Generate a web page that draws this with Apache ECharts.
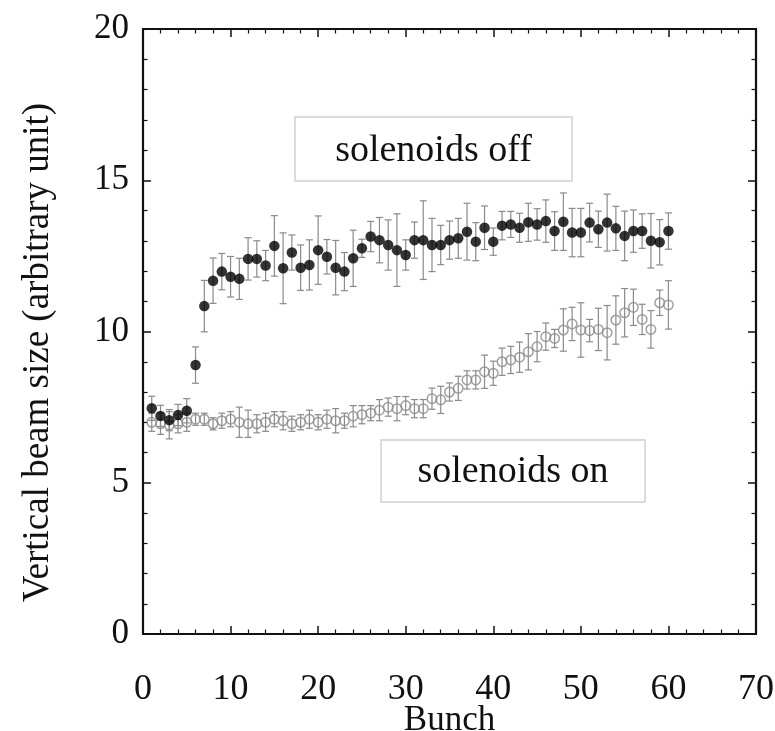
<!DOCTYPE html>
<html>
<head>
<meta charset="utf-8">
<script src="https://cdn.jsdelivr.net/npm/echarts@6/dist/echarts.min.js"></script>
<style>html,body{margin:0;padding:0;background:#fff;}#c{width:775px;height:731px;}</style>
</head>
<body>
<div id="c"></div>
<script>
const bunch = [1,2,3,4,5,6,7,8,9,10,11,12,13,14,15,16,17,18,19,20,21,22,23,24,25,26,27,28,29,30,31,32,33,34,35,36,37,38,39,40,41,42,43,44,45,46,47,48,49,50,51,52,53,54,55,56,57,58,59,60];
const offY = [7.46,7.21,7.07,7.24,7.38,8.89,10.84,11.68,11.98,11.81,11.74,12.40,12.40,12.18,12.83,12.09,12.61,12.11,12.20,12.69,12.47,12.11,11.98,12.42,12.75,13.14,13.02,12.86,12.69,12.53,13.02,13.02,12.86,12.86,13.02,13.08,13.30,12.97,13.43,12.97,13.50,13.54,13.43,13.61,13.54,13.65,13.32,13.63,13.27,13.27,13.60,13.38,13.60,13.41,13.16,13.32,13.32,13.00,12.95,13.32];
const offErr = [0.4,0.35,0.35,0.35,0.4,0.6,0.85,0.75,0.6,0.67,0.68,0.7,0.6,0.5,1.0,1.17,0.58,0.75,0.83,1.13,0.57,0.9,0.63,0.93,0.3,0.5,0.75,0.83,1.2,0.5,0.6,1.3,0.88,0.65,0.63,0.66,0.94,0.63,0.72,0.45,0.47,0.43,0.48,0.63,0.52,0.7,0.64,0.95,0.8,0.8,0.64,0.6,0.94,0.73,0.82,0.7,0.57,0.9,0.75,0.6];
const onY = [7.0,6.95,6.9,6.95,7.0,7.1,7.1,6.95,7.05,7.1,7.0,6.95,6.95,7.0,7.1,7.05,6.95,7.0,7.1,7.0,7.1,7.05,7.05,7.2,7.25,7.3,7.4,7.5,7.45,7.55,7.45,7.45,7.78,7.74,8.0,8.12,8.4,8.4,8.67,8.62,9.0,9.06,9.15,9.33,9.5,9.83,9.77,10.05,10.25,10.05,10.03,10.07,9.96,10.38,10.62,10.8,10.4,10.07,10.95,10.88];
const onErr = [0.3,0.35,0.45,0.3,0.3,0.2,0.2,0.2,0.25,0.25,0.5,0.45,0.3,0.3,0.25,0.3,0.25,0.25,0.3,0.25,0.3,0.4,0.25,0.35,0.3,0.25,0.35,0.3,0.4,0.3,0.3,0.3,0.35,0.45,0.3,0.4,0.3,0.3,0.55,0.4,0.45,0.45,0.5,0.6,0.5,0.45,0.3,0.7,0.55,0.9,0.37,0.7,0.9,0.8,0.8,0.6,0.5,0.62,0.42,0.8];
const xTicks = [0,10,20,30,40,50,60,70];
const yTicks = [0,5,10,15,20];
const labelOff = 'solenoids off';
const labelOn = 'solenoids on';
const xTitle = 'Bunch';
const yTitle = 'Vertical beam size (arbitrary unit)';

const FONT = '"Liberation Serif","Times New Roman",serif';
const pts = (ys) => bunch.map((x, i) => [x, ys[i]]);
const bars = (ys, es) => bunch.map((x, i) => [x, ys[i] - es[i], ys[i] + es[i]]);

function errRender(params, api) {
  const x = api.value(0);
  const lo = api.coord([x, api.value(1)]);
  const hi = api.coord([x, api.value(2)]);
  const w = 3.5;
  const st = { stroke: '#8a8a8a', lineWidth: 1.2 };
  return { type: 'group', children: [
    { type: 'line', shape: { x1: lo[0], y1: lo[1], x2: hi[0], y2: hi[1] }, style: st },
    { type: 'line', shape: { x1: hi[0] - w, y1: hi[1], x2: hi[0] + w, y2: hi[1] }, style: st },
    { type: 'line', shape: { x1: lo[0] - w, y1: lo[1], x2: lo[0] + w, y2: lo[1] }, style: st }
  ]};
}

function axis(extra) {
  return Object.assign({
    type: 'value',
    nameMoveOverlap: false,
    axisLine: { show: true, onZero: false, lineStyle: { color: '#111', width: 2.2 } },
    axisTick: { show: true, inside: true, length: 8, lineStyle: { color: '#111', width: 1.5 } },
    minorTick: { show: true, splitNumber: 5, length: 4.5, lineStyle: { color: '#111', width: 1.2 } },
    splitLine: { show: false }
  }, extra);
}

const chart = echarts.init(document.getElementById('c'));
chart.setOption({
  backgroundColor: '#fff',
  animation: false,
  grid: { left: 143, right: 19, top: 29, bottom: 97, containLabel: false, outerBoundsMode: 'none' },
  xAxis: [
    axis({
      min: 0, max: 70, interval: 10,
      name: xTitle, nameLocation: 'middle', nameGap: 69,
      nameTextStyle: { fontFamily: FONT, fontSize: 35, color: '#111' },
      axisLabel: { margin: 56, fontFamily: FONT, fontSize: 36, color: '#111', verticalAlign: 'middle',
        formatter: v => xTicks.includes(v) ? String(v) : '' }
    }),
    axis({ position: 'top', min: 0, max: 70, interval: 10, axisLabel: { show: false } })
  ],
  yAxis: [
    axis({
      min: 0, max: 20, interval: 5,
      name: yTitle, nameLocation: 'middle', nameGap: 86, nameRotate: 90,
      nameTextStyle: { fontFamily: FONT, fontSize: 37, color: '#111', padding: [0, 42, 0, 0] },
      axisLabel: { margin: 14, fontFamily: FONT, fontSize: 35, color: '#111',
        formatter: v => yTicks.includes(v) ? String(v) : '' }
    }),
    axis({ position: 'right', min: 0, max: 20, interval: 5, axisLabel: { show: false } })
  ],
  graphic: [
    { type: 'rect', shape: { x: 295, y: 117, width: 277, height: 64 },
      style: { fill: '#fff', stroke: '#cfcfcf', lineWidth: 1.5 }, z: 10 },
    { type: 'text', x: 433.5, y: 151, style: { text: labelOff, fontFamily: FONT, fontSize: 38,
      fill: '#111', align: 'center', verticalAlign: 'middle' }, z: 11 },
    { type: 'rect', shape: { x: 381, y: 440, width: 264, height: 62 },
      style: { fill: '#fff', stroke: '#cfcfcf', lineWidth: 1.5 }, z: 10 },
    { type: 'text', x: 513, y: 472, style: { text: labelOn, fontFamily: FONT, fontSize: 38,
      fill: '#111', align: 'center', verticalAlign: 'middle' }, z: 11 }
  ],
  series: [
    { type: 'custom', name: 'onErr', renderItem: errRender,
      data: bars(onY, onErr), encode: { x: 0, y: [1, 2] }, z: 2 },
    { type: 'scatter', name: 'on', data: pts(onY), symbol: 'circle', symbolSize: 9.5,
      itemStyle: { color: 'rgba(255,255,255,0)', borderColor: '#8a8a8a', borderWidth: 1.5 }, z: 3 },
    { type: 'custom', name: 'offErr', renderItem: errRender,
      data: bars(offY, offErr), encode: { x: 0, y: [1, 2] }, z: 4 },
    { type: 'scatter', name: 'off', data: pts(offY), symbol: 'circle', symbolSize: 10.5,
      itemStyle: { color: '#000' }, z: 5 }
  ]
});
</script>
</body>
</html>
